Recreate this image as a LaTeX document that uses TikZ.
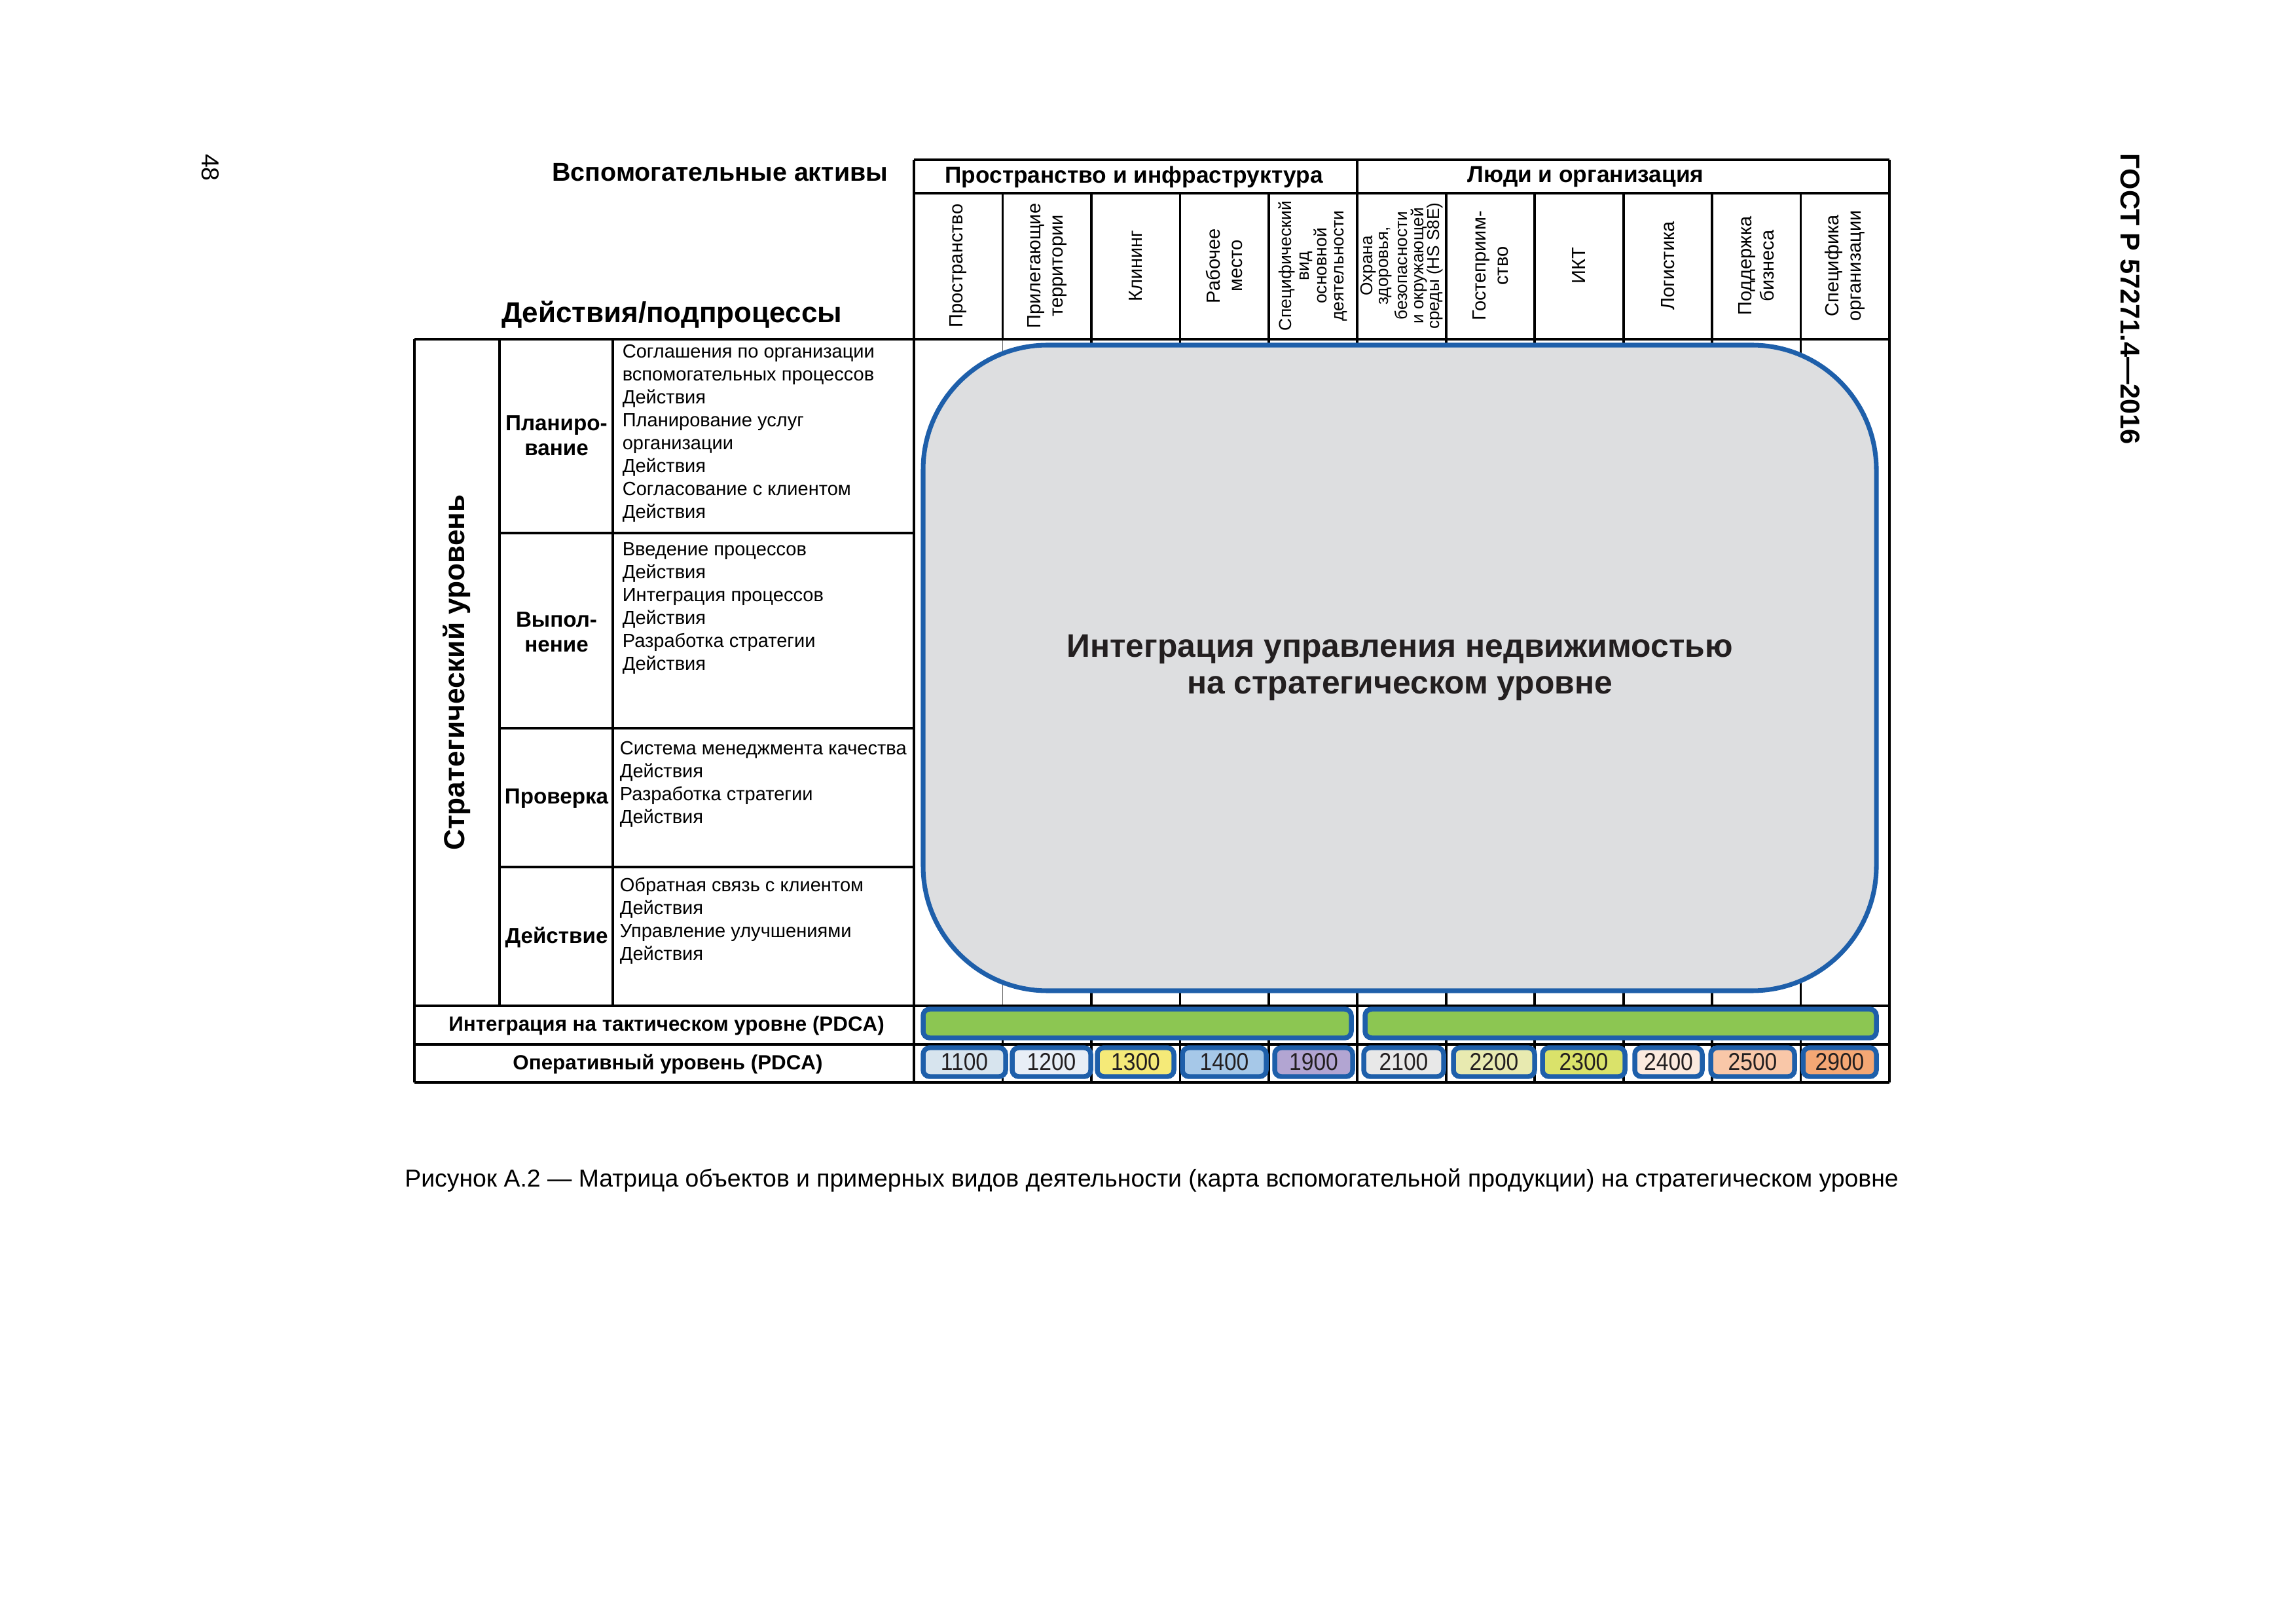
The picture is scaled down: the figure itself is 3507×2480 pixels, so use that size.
\documentclass[tikz,border=0pt]{standalone}
\usepackage{fontspec}
\setmainfont{Liberation Sans}
\newfontfamily\narrowfont{Liberation Sans}[FakeStretch=0.9]
\definecolor{frameblue}{HTML}{1E5FAA}
\definecolor{bargreen}{HTML}{8CC652}
\definecolor{panelgray}{HTML}{DDDEE0}
\definecolor{textdark}{HTML}{231F20}
\definecolor{cA}{HTML}{D7E4EE}
\definecolor{cB}{HTML}{E8EEF6}
\definecolor{cC}{HTML}{F5EA78}
\definecolor{cD}{HTML}{A6C8E8}
\definecolor{cE}{HTML}{B2A5D2}
\definecolor{cF}{HTML}{E8E8E8}
\definecolor{cG}{HTML}{E8EAB0}
\definecolor{cH}{HTML}{DAE26A}
\definecolor{cI}{HTML}{FBEADE}
\definecolor{cJ}{HTML}{F9C7A8}
\definecolor{cK}{HTML}{F4A774}
\tikzset{
  gridline/.style={line width=0.9pt, black},
  colhead/.style={rotate=90, align=center, inner sep=0pt, font=\fontsize{7}{8.2}\selectfont},
  acttext/.style={anchor=north west, align=left, inner sep=0pt, font=\fontsize{7}{8.43}\selectfont},
  phase/.style={align=center, inner sep=0pt, font=\bfseries\fontsize{8}{9.2}\selectfont},
  rowlabel/.style={inner sep=0pt, font=\bfseries\fontsize{7.55}{9}\selectfont},
  grouphead/.style={inner sep=0pt, font=\bfseries\fontsize{8.5}{10}\selectfont},
  opbox/.style={draw=frameblue, line width=1.8pt, rounded corners=2.4pt, inner sep=0pt,
                font=\narrowfont\fontsize{9}{10}\selectfont, text=textdark},
  tacbar/.style={draw=frameblue, fill=bargreen, line width=1.8pt, rounded corners=2.4pt, inner sep=0pt},
}
% box from x=#1 to x=#2 (px), label #3, fill #4
\newcommand\opcell[4]{\node[opbox, fill=#4, minimum width={(#2-#1)*0.084667mm}, minimum height={44*0.084667mm}]
  (op#3) at ({(#1+#2)/2},1622) {#3};}
\begin{document}
\begin{tikzpicture}[x=0.084667mm, y=-0.084667mm]
\useasboundingbox (0,0) rectangle (3507,2480);

% page furniture
\node[rotate=-90, inner sep=0pt, font=\fontsize{9}{10}\selectfont] (pagenum) at (321,256) {48};
\node[rotate=-90, inner sep=0pt, font=\bfseries\fontsize{10}{12}\selectfont] (gost) at (3254,457) {ГОСТ Р 57271.4—2016};

% header grid
\draw[gridline] (1396,244) -- (2886,244);
\draw[gridline] (1396,295) -- (2886,295);
\draw[gridline] (2073,244) -- (2073,295);
\draw[gridline] (1396,244) -- (1396,1653);
\draw[gridline] (2886,244) -- (2886,1653);
\foreach \k in {1,...,10} {
  \draw[gridline] ({1396+135.4545*\k},295) -- ({1396+135.4545*\k},518);
  \draw[gridline] ({1396+135.4545*\k},1536) -- ({1396+135.4545*\k},1653);
}
\foreach \k in {2,...,10} {
  \draw[gridline] ({1396+135.4545*\k},518) -- ({1396+135.4545*\k},1536);
}
\draw[line width=0.4pt, black!60] (1531.45,518) -- (1531.45,1536);

% left table
\draw[gridline] (633,518) -- (2886,518);
\draw[gridline] (633,1536) -- (2886,1536);
\draw[gridline] (633,1595) -- (2886,1595);
\draw[gridline] (633,1653) -- (2886,1653);
\draw[gridline] (633,518) -- (633,1653);
\draw[gridline] (763,518) -- (763,1536);
\draw[gridline] (936,518) -- (936,1536);
\draw[gridline] (763,814) -- (1396,814);
\draw[gridline] (763,1112) -- (1396,1112);
\draw[gridline] (763,1324) -- (1396,1324);

% headings
\node[inner sep=0pt, anchor=east, font=\bfseries\fontsize{9.5}{11}\selectfont] (aux) at (1357,263) {Вспомогательные активы};
\node[inner sep=0pt, font=\bfseries\fontsize{10.6}{12}\selectfont] (acts) at (1026,481) {Действия/подпроцессы};
\node[grouphead] (g1) at (1732,270) {Пространство и инфраструктура};
\node[grouphead] (g2) at (2422,270) {Люди и организация};

% column headers
\node[colhead] (h1) at (1463.7,406) {Пространство};
\node[colhead] (h2) at (1599.2,406) {Прилегающие\\территории};
\node[colhead] (h3) at (1734.6,406) {Клининг};
\node[colhead] (h4) at (1870.1,406) {Рабочее\\место};
\node[colhead, font=\fontsize{6.4}{6.4}\selectfont] (h5) at (2005.5,406) {Специфический\\вид\\основной\\деятельности};
\node[colhead, font=\fontsize{6.3}{5.9}\selectfont] (h6) at (2141.0,406) {Охрана\\здоровья,\\безопасности\\и окружающей\\среды (HS S8E)};
\node[colhead] (h7) at (2276.5,406) {Гостеприим-\\ство};
\node[colhead] (h8) at (2411.9,406) {ИКТ};
\node[colhead] (h9) at (2547.4,406) {Логистика};
\node[colhead] (h10) at (2682.8,406) {Поддержка\\бизнеса};
\node[colhead] (h11) at (2818.3,406) {Специфика\\организации};

% strategic level
\node[rotate=90, inner sep=0pt, font=\bfseries\fontsize{10.66}{12}\selectfont] (strlevel) at (698,1027) {Стратегический уровень};
\node[phase] (plan) at (850,665) {Планиро-\\вание};
\node[phase] (exec) at (850,965) {Выпол-\\нение};
\node[phase] (check) at (850,1220) {Проверка};
\node[phase] (act) at (850,1431) {Действие};

\node[acttext] (tplan) at (950,525) {Соглашения по организации\\вспомогательных процессов\\Действия\\Планирование услуг\\организации\\Действия\\Согласование с клиентом\\Действия};
\node[acttext] (texec) at (950,828) {Введение процессов\\Действия\\Интеграция процессов\\Действия\\Разработка стратегии\\Действия};
\node[acttext] (tcheck) at (946,1131) {Система менеджмента качества\\Действия\\Разработка стратегии\\Действия};
\node[acttext] (tact) at (946,1339) {Обратная связь с клиентом\\Действия\\Управление улучшениями\\Действия};

\node[rowlabel] (tacl) at (1018,1566) {Интеграция на тактическом уровне (PDCA)};
\node[rowlabel] (opl) at (1020,1625) {Оперативный уровень (PDCA)};

% big panel
\node[draw=frameblue, fill=panelgray, line width=1.7pt, rounded corners=16.1mm, inner sep=0pt,
      minimum width={1456*0.084667mm}, minimum height={986*0.084667mm},
      align=center, text=textdark,
      font=\bfseries\fontsize{12}{13.5}\selectfont] (panel) at (2138,1020)
      {Интеграция управления недвижимостью\\на стратегическом уровне};

% tactical bars
\node[tacbar, minimum width={654*0.084667mm}, minimum height={44*0.084667mm}] (tac1) at (1737,1563) {};
\node[tacbar, minimum width={781*0.084667mm}, minimum height={44*0.084667mm}] (tac2) at (2475.5,1563) {};

% operational boxes
\opcell{1410}{1536}{1100}{cA}
\opcell{1546}{1666}{1200}{cB}
\opcell{1676}{1793}{1300}{cC}
\opcell{1806}{1934}{1400}{cD}
\opcell{1947}{2066}{1900}{cE}
\opcell{2083}{2205}{2100}{cF}
\opcell{2220}{2344}{2200}{cG}
\opcell{2356}{2482}{2300}{cH}
\opcell{2497}{2600}{2400}{cI}
\opcell{2613}{2741}{2500}{cJ}
\opcell{2754}{2866}{2900}{cK}

% caption
\node[inner sep=0pt, font=\fontsize{9}{11}\selectfont] (caption) at (1759,1803)
  {Рисунок А.2 — Матрица объектов и примерных видов деятельности (карта вспомогательной продукции) на стратегическом уровне};
\end{tikzpicture}
\end{document}
